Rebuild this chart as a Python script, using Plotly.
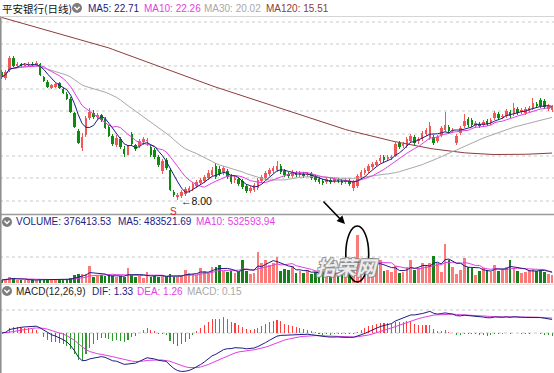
import plotly.graph_objects as go
import pandas as pd

# ---------------- data ----------------
opens = [28.48, 27.52, 28.80, 30.72, 29.44, 29.76, 29.44, 29.60, 29.76, 29.60,
         29.76, 27.68, 26.88, 25.92, 26.08, 26.72, 25.76, 24.96, 24.16, 21.92,
         19.04, 16.32, 18.40, 21.12, 21.92, 21.28, 21.60, 20.96, 19.68, 18.24,
         16.80, 17.76, 16.16, 15.20, 18.56, 16.80, 16.64, 17.28, 17.44, 16.48,
         16.00, 14.88, 12.64, 14.40, 12.80, 9.28, 8.48, 8.64, 8.96, 9.44,
         9.76, 10.24, 10.72, 11.04, 11.52, 12.00, 13.44, 12.96, 12.48, 12.64,
         11.84, 11.20, 11.36, 11.04, 10.24, 9.44, 9.60, 9.92, 11.04, 11.52,
         12.16, 12.64, 12.80, 13.44, 12.64, 12.16, 11.84, 12.32, 12.00, 12.16,
         12.00, 12.16, 11.68, 11.36, 11.04, 10.88, 11.20, 11.04, 11.20, 11.04,
         10.88, 11.04, 9.92, 10.24, 11.68, 12.32, 12.64, 13.28, 13.60, 14.24,
         14.88, 14.56, 14.72, 15.04, 17.12, 16.64, 16.64, 17.44, 18.08, 17.44,
         17.76, 18.56, 17.92, 18.08, 17.44, 18.40, 19.20, 19.68, 19.04, 17.12,
         18.72, 19.84, 20.96, 20.80, 19.84, 20.16, 20.00, 20.64, 20.32, 21.12,
         21.76, 21.28, 21.44, 22.08, 21.76, 22.56, 22.08, 21.92, 22.24, 22.72,
         23.36, 24.00, 23.84, 22.56, 22.40]
closes = [27.68, 28.48, 30.72, 29.44, 29.76, 29.44, 29.60, 29.76, 29.60, 29.92,
          28.00, 27.04, 26.08, 26.40, 26.56, 25.92, 25.12, 24.16, 22.08, 19.68,
          17.12, 18.08, 21.12, 22.08, 21.28, 21.60, 20.80, 19.52, 18.24, 16.96,
          17.92, 16.48, 15.36, 16.80, 16.96, 16.16, 17.44, 17.76, 17.60, 15.20,
          14.88, 13.60, 14.24, 13.12, 9.60, 8.80, 8.80, 9.28, 9.76, 9.92,
          10.56, 10.88, 11.20, 11.68, 12.32, 12.80, 11.68, 12.16, 13.12, 11.68,
          10.88, 11.52, 10.56, 10.08, 9.44, 9.92, 10.40, 11.20, 11.68, 12.32,
          12.80, 13.12, 13.44, 12.48, 12.00, 11.84, 12.48, 12.00, 12.32, 11.84,
          12.16, 11.52, 11.20, 10.88, 10.72, 11.36, 10.88, 11.36, 11.04, 10.72,
          11.20, 10.56, 10.88, 11.84, 12.48, 12.80, 13.44, 13.76, 14.08, 14.72,
          14.40, 14.88, 14.88, 16.96, 16.48, 16.96, 17.76, 18.24, 17.12, 17.76,
          18.72, 19.20, 19.84, 17.12, 18.08, 19.52, 20.00, 19.04, 19.20, 18.24,
          19.52, 20.64, 20.00, 20.00, 20.32, 19.84, 20.48, 20.16, 20.80, 21.92,
          21.12, 21.44, 22.24, 21.44, 22.72, 21.92, 22.40, 22.56, 22.72, 23.52,
          23.04, 23.04, 22.88, 23.04, 22.88]
highs = [28.80, 28.80, 31.04, 31.04, 30.08, 29.92, 29.92, 30.08, 30.08, 30.24,
         29.92, 27.84, 27.20, 26.56, 26.72, 26.88, 25.92, 25.28, 24.48, 22.08,
         19.36, 18.72, 21.44, 22.72, 22.40, 21.92, 21.76, 21.28, 20.00, 18.56,
         18.40, 18.08, 16.64, 17.12, 18.88, 16.96, 17.76, 18.08, 17.92, 16.80,
         16.32, 15.20, 14.56, 14.72, 13.12, 9.60, 9.12, 9.60, 10.08, 10.24,
         10.88, 11.20, 11.52, 12.00, 12.80, 13.28, 13.92, 13.44, 13.44, 12.96,
         12.16, 11.84, 11.68, 11.36, 10.56, 10.24, 10.72, 11.52, 12.00, 12.64,
         13.12, 13.44, 14.24, 13.76, 12.96, 12.48, 12.80, 12.64, 12.64, 12.48,
         12.48, 12.48, 12.00, 11.68, 11.36, 11.68, 11.52, 11.68, 11.52, 11.36,
         11.52, 11.36, 11.20, 12.16, 12.80, 13.12, 13.76, 14.08, 14.40, 15.20,
         15.20, 15.20, 15.20, 17.28, 17.44, 17.28, 18.08, 18.56, 18.40, 18.08,
         19.04, 19.52, 20.48, 18.40, 18.40, 19.84, 22.08, 20.00, 19.52, 18.56,
         19.84, 21.76, 21.28, 21.12, 20.64, 20.48, 20.80, 20.96, 21.12, 22.24,
         22.08, 21.76, 22.56, 22.40, 23.52, 22.88, 22.72, 22.88, 23.04, 24.32,
         23.68, 24.32, 24.16, 23.36, 23.20]
lows = [27.36, 27.20, 28.48, 29.28, 29.12, 29.28, 29.28, 29.28, 29.44, 29.44,
        27.84, 26.88, 25.92, 25.76, 25.92, 25.76, 24.96, 24.00, 21.92, 19.52,
        16.96, 15.84, 18.08, 20.80, 20.96, 20.80, 20.48, 19.36, 18.08, 16.64,
        16.48, 16.16, 14.88, 14.72, 16.64, 15.84, 16.32, 16.80, 16.64, 14.88,
        14.56, 13.28, 12.16, 12.80, 9.44, 8.48, 8.00, 8.32, 8.64, 9.12,
        9.44, 9.92, 10.40, 10.72, 11.20, 11.84, 11.36, 11.84, 12.00, 11.36,
        10.56, 10.72, 10.24, 9.76, 9.12, 9.12, 9.28, 9.60, 10.72, 11.20,
        11.84, 12.32, 12.48, 12.16, 11.68, 11.52, 11.52, 11.68, 11.68, 11.52,
        11.68, 11.20, 10.88, 10.56, 10.40, 10.56, 10.56, 10.72, 10.72, 10.40,
        10.56, 10.24, 9.44, 9.92, 11.36, 12.00, 12.32, 12.96, 13.28, 13.92,
        14.08, 14.24, 14.40, 14.88, 16.16, 16.32, 16.32, 17.12, 16.80, 16.96,
        17.44, 18.24, 17.60, 16.80, 17.12, 18.08, 18.88, 18.72, 18.72, 16.80,
        18.40, 19.52, 19.68, 19.68, 19.52, 19.52, 19.68, 19.84, 20.00, 20.80,
        20.80, 20.96, 21.12, 21.12, 21.44, 21.60, 21.76, 21.60, 21.92, 22.40,
        22.72, 22.72, 22.56, 22.24, 22.08]
volumes = [138000, 184000, 276000, 230000, 138000, 138000, 138000, 138000, 138000, 138000,
           184000, 138000, 184000, 138000, 138000, 138000, 184000, 184000, 230000, 368000,
           414000, 414000, 414000, 782000, 276000, 322000, 368000, 322000, 368000, 322000,
           276000, 322000, 276000, 690000, 368000, 276000, 322000, 230000, 506000, 276000,
           322000, 276000, 322000, 276000, 414000, 276000, 276000, 322000, 598000, 460000,
           414000, 368000, 690000, 552000, 460000, 736000, 736000, 828000, 552000, 506000,
           552000, 460000, 506000, 1058000, 552000, 414000, 460000, 1426000, 920000, 1058000,
           828000, 920000, 1196000, 552000, 644000, 598000, 782000, 460000, 552000, 460000,
           598000, 414000, 506000, 368000, 460000, 414000, 368000, 460000, 414000, 644000,
           552000, 736000, 506000, 2208000, 920000, 828000, 1012000, 736000, 828000, 1058000,
           552000, 598000, 506000, 782000, 460000, 506000, 736000, 1058000, 598000, 690000,
           920000, 782000, 920000, 1242000, 920000, 506000, 1794000, 1058000, 736000, 414000,
           598000, 1150000, 736000, 690000, 368000, 552000, 690000, 598000, 506000, 828000,
           552000, 644000, 736000, 1058000, 690000, 552000, 460000, 506000, 598000, 644000,
           552000, 598000, 506000, 414000, 376414]
ma120 = [37.20, 37.03, 36.86, 36.69, 36.52, 36.35, 36.18, 36.01, 35.84, 35.67,
         35.50, 35.33, 35.16, 34.99, 34.82, 34.65, 34.48, 34.31, 34.14, 33.97,
         33.80, 33.63, 33.46, 33.29, 33.12, 32.95, 32.78, 32.55, 32.33, 32.10,
         31.87, 31.64, 31.42, 31.19, 30.96, 30.74, 30.51, 30.28, 30.05, 29.83,
         29.60, 29.37, 29.15, 28.92, 28.69, 28.46, 28.24, 28.01, 27.78, 27.56,
         27.33, 27.10, 26.88, 26.68, 26.47, 26.27, 26.06, 25.86, 25.66, 25.45,
         25.25, 25.04, 24.84, 24.64, 24.43, 24.23, 24.02, 23.82, 23.62, 23.41,
         23.21, 23.00, 22.80, 22.60, 22.39, 22.19, 21.98, 21.78, 21.58, 21.40,
         21.18, 20.98, 20.76, 20.55, 20.35, 20.15, 19.96, 19.78, 19.60, 19.43,
         19.26, 19.10, 18.94, 18.78, 18.63, 18.48, 18.33, 18.18, 18.03, 17.88,
         17.74, 17.60, 17.46, 17.33, 17.20, 17.07, 16.94, 16.82, 16.70, 16.58,
         16.47, 16.36, 16.26, 16.16, 16.07, 15.98, 15.90, 15.82, 15.75, 15.68,
         15.62, 15.56, 15.51, 15.46, 15.42, 15.38, 15.35, 15.32, 15.30, 15.28,
         15.27, 15.26, 15.26, 15.26, 15.27, 15.28, 15.30, 15.32, 15.34, 15.37,
         15.40, 15.43, 15.46, 15.48, 15.51]

title_text = "平安银行(日线)"
price_labels = ["MA5: 22.71", "MA10: 22.26", "MA30: 20.02", "MA120: 15.51"]
vol_labels = ["VOLUME: 376413.53", "MA5: 483521.69", "MA10: 532593.94"]
macd_labels = ["MACD(12,26,9)", "DIF: 1.33", "DEA: 1.26", "MACD: 0.15"]
watermark = "抬荣网"

# ---------------- derived series ----------------
n = len(closes)
idx = list(range(n))
s = pd.Series(closes)
ma5 = s.rolling(5, min_periods=1).mean()
ma10 = s.rolling(10, min_periods=1).mean()
ma30 = s.rolling(30, min_periods=1).mean()
v = pd.Series(volumes, dtype=float)
vma5 = v.rolling(5, min_periods=1).mean()
vma10 = v.rolling(10, min_periods=1).mean()
ema12 = s.ewm(span=12, adjust=False).mean()
ema26 = s.ewm(span=26, adjust=False).mean()
dif = ema12 - ema26
dea = dif.ewm(span=9, adjust=False).mean()
hist = 2 * (dif - dea)

# ---------------- style ----------------
W, H = 554, 373
RED, GREEN = "#f25757", "#0e8a0e"
VRED, VGREEN = "#fb7b7b", "#17801a"
NAVY, PINK, GRAY, BROWN = "#1c1c82", "#e23ee2", "#a8a8a8", "#8e3b3b"
LAT = "Liberation Sans, Arial, sans-serif"
CJK = "Noto Sans CJK SC, sans-serif"

def px(xp):
    return xp / W

def py(yp):
    return 1 - yp / H

up = [c >= o for o, c in zip(opens, closes)]
ccol = [RED if u else GREEN for u in up]
vcol = [VRED if u else VGREEN for u in up]

fig = go.Figure()
# wicks
fig.add_trace(go.Bar(x=idx, y=[h - l for h, l in zip(highs, lows)], base=lows,
                     width=0.26, marker=dict(color=ccol, line=dict(width=0)),
                     hoverinfo="skip", xaxis="x", yaxis="y"))
# bodies
fig.add_trace(go.Bar(x=idx, y=[max(abs(c - o), 0.13) for o, c in zip(opens, closes)],
                     base=[min(o, c) for o, c in zip(opens, closes)],
                     width=0.68, marker=dict(color=ccol, line=dict(width=0)),
                     hoverinfo="skip", xaxis="x", yaxis="y"))
for series, col in [(ma120, BROWN), (ma30, GRAY), (ma10, PINK), (ma5, NAVY)]:
    fig.add_trace(go.Scatter(x=idx, y=list(series), mode="lines",
                             line=dict(color=col, width=1), hoverinfo="skip",
                             xaxis="x", yaxis="y"))

# volume
fig.add_trace(go.Bar(x=idx, y=volumes, width=0.7, marker=dict(color=vcol, line=dict(width=0)),
                     hoverinfo="skip", xaxis="x2", yaxis="y2"))
for series, col in [(vma10, PINK), (vma5, NAVY)]:
    fig.add_trace(go.Scatter(x=idx, y=list(series), mode="lines",
                             line=dict(color=col, width=1), hoverinfo="skip",
                             xaxis="x2", yaxis="y2"))

# macd
fig.add_trace(go.Bar(x=idx, y=list(hist), width=0.28,
                     marker=dict(color=["#ff3b3b" if h >= 0 else "#2e9a2e" for h in hist],
                                 line=dict(width=0)),
                     hoverinfo="skip", xaxis="x3", yaxis="y3"))
fig.add_trace(go.Scatter(x=idx, y=list(dea), mode="lines", line=dict(color=PINK, width=1),
                         hoverinfo="skip", xaxis="x3", yaxis="y3"))
fig.add_trace(go.Scatter(x=idx, y=list(dif), mode="lines", line=dict(color=NAVY, width=1),
                         hoverinfo="skip", xaxis="x3", yaxis="y3"))

xr = [-0.5, n - 0.5]
ax_common = dict(visible=False, range=xr, fixedrange=True)
MPX = 12.0  # macd pixels per unit
fig.update_layout(
    width=W, height=H, margin=dict(l=0, r=0, t=0, b=0),
    paper_bgcolor="white", plot_bgcolor="white", showlegend=False,
    barmode="overlay", bargap=0,
    xaxis=dict(**ax_common, anchor="y"),
    xaxis2=dict(**ax_common, anchor="y2", matches="x"),
    xaxis3=dict(**ax_common, anchor="y3", matches="x"),
    yaxis=dict(visible=False, domain=[py(213), py(17)], range=[40 - 0.16 * 213, 40 - 0.16 * 17]),
    yaxis2=dict(visible=False, domain=[py(283), py(230)], range=[0, 53 * 46000]),
    yaxis3=dict(visible=False, domain=[0, py(300)], range=[-40 / MPX, 33 / MPX]),
)

shapes = []
def hline(yp, color, dash="dot", width=1, x0=0, x1=1):
    shapes.append(dict(type="line", xref="paper", yref="paper", x0=x0, x1=x1,
                       y0=py(yp), y1=py(yp), line=dict(color=color, width=width, dash=dash),
                       layer="below"))

for g in [22, 44, 66, 89, 111, 134, 156, 178, 201]:
    hline(g, "#c9c9c9")
hline(257, "#c9c9c9")
hline(310, "#c9c9c9")
hline(333, "#c9c9c9")
hline(16.5, "#d4d4d4", dash="solid")
hline(214.5, "#9a9a9a", dash="solid", width=1.5)
hline(284.5, "#e0e0e0", dash="solid")
shapes.append(dict(type="line", xref="paper", yref="paper", x0=px(0.8), x1=px(0.8),
                   y0=0, y1=py(16.5), line=dict(color="#8a8a8a", width=1.5)))

def icon(cx, cy):
    r = 5
    shapes.append(dict(type="circle", xref="paper", yref="paper",
                       x0=px(cx - r), x1=px(cx + r), y0=py(cy + r), y1=py(cy - r),
                       fillcolor="#7d7d7d", line=dict(width=0)))
    shapes.append(dict(type="path", xref="paper", yref="paper",
                       path=f"M {px(cx-2.6)} {py(cy-1.2)} L {px(cx)} {py(cy+1.4)} L {px(cx+2.6)} {py(cy-1.2)}",
                       line=dict(color="white", width=1.4)))

icon(77, 8)
icon(7, 222)
icon(7, 291)

# ellipse around the volume spike
spike = max(range(n), key=lambda i: volumes[i])
shapes.append(dict(type="circle", xref="x2", yref="paper", x0=spike - 3.0, x1=spike + 3.0,
                   y0=py(282), y1=py(226), line=dict(color="black", width=1.6)))
fig.update_layout(shapes=shapes)

ann = []
def txt(x, y, t, color, size=10, family=LAT, **kw):
    d = dict(x=px(x), y=py(y), xref="paper", yref="paper", text=t, showarrow=False,
             xanchor="left", yanchor="middle", font=dict(color=color, size=size, family=family))
    d.update(kw)
    ann.append(d)

txt(0, 8, title_text, "#111111", size=10.5, family=CJK)
for t, x, c in zip(price_labels, [86, 142, 202, 264], [NAVY, PINK, GRAY, BROWN]):
    txt(x, 8, t, c, size=10)
for t, x, c in zip(vol_labels, [14, 116, 194], [NAVY, NAVY, PINK]):
    txt(x, 222, t, c, size=10)
for t, x, c in zip(macd_labels, [14, 90, 135, 185], ["#222222", NAVY, PINK, GRAY]):
    txt(x, 291, t, c, size=10)

lo_i = min(range(n), key=lambda i: lows[i])
ann.append(dict(x=lo_i, y=lows[lo_i], xref="x", yref="y", text=f"←{lows[lo_i]:.2f}",
                showarrow=False, xanchor="left", yanchor="middle", xshift=1, yshift=-1,
                font=dict(color="#111111", size=10.5, family=LAT)))
ann.append(dict(x=lo_i, y=lows[lo_i], xref="x", yref="y", text="S",
                showarrow=False, xanchor="center", yanchor="top", xshift=-4, yshift=-4,
                font=dict(color="#e02020", size=10, family=LAT)))
# arrow pointing to the spike
ann.append(dict(x=px(345), y=py(224), xref="paper", yref="paper", text="", showarrow=True,
                ax=-23, ay=-24, arrowhead=2, arrowsize=1, arrowwidth=1.6, arrowcolor="black"))
# watermark (outlined, italic)
ann.append(dict(x=px(347), y=py(266), xref="paper", yref="paper", text=watermark,
                showarrow=False, xanchor="center", yanchor="middle",
                font=dict(color="rgba(255,255,255,0.85)", size=20, family=CJK, style="italic",
                          weight="bold",
                          shadow="1px 1px 0 #8c8c8c, -1px -1px 0 #8c8c8c, 1px -1px 0 #8c8c8c, -1px 1px 0 #8c8c8c")))
fig.update_layout(annotations=ann)

fig.write_html("out.html", config={"displayModeBar": False, "staticPlot": True},
               post_script="document.body.style.margin='0';document.body.style.overflow='hidden';")
